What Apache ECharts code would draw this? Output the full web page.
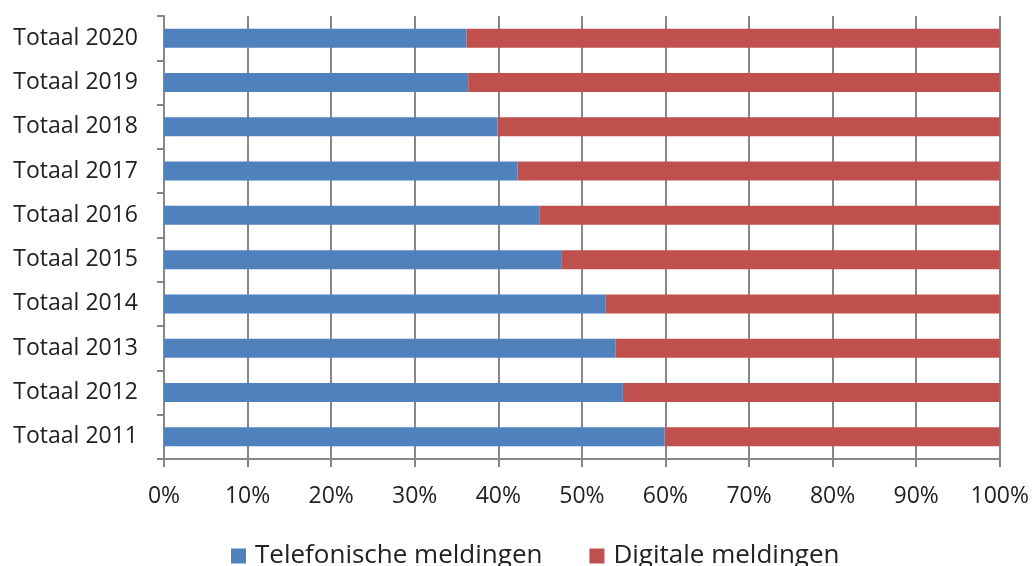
<!DOCTYPE html>
<html>
<head>
<meta charset="utf-8">
<script src="https://cdn.jsdelivr.net/npm/echarts@6/dist/echarts.min.js"></script>
<style>html,body{margin:0;padding:0;background:#fff}#c{width:1032px;height:566px}</style>
</head>
<body>
<div id="c"></div>
<script>
const categories = ['Totaal 2011','Totaal 2012','Totaal 2013','Totaal 2014','Totaal 2015','Totaal 2016','Totaal 2017','Totaal 2018','Totaal 2019','Totaal 2020'];
const telefonisch = [59.9, 54.9, 54.0, 52.8, 47.6, 44.9, 42.3, 39.9, 36.4, 36.2];
const digitaal = [40.1, 45.1, 46.0, 47.2, 52.4, 55.1, 57.7, 60.1, 63.6, 63.8];
const seriesNames = ['Telefonische meldingen', 'Digitale meldingen'];

const font = 'Open Sans';
const gridColor = '#878787';
const chart = echarts.init(document.getElementById('c'), null, {renderer: 'canvas'});
chart.setOption({
  animation: false,
  backgroundColor: '#fff',
  textStyle: {fontFamily: font},
  grid: {left: 164, right: 32, top: 16, bottom: 107, containLabel: false},
  legend: {
    data: seriesNames,
    left: 231, top: 543, padding: 0,
    itemWidth: 15, itemHeight: 15, itemGap: 47,
    icon: 'rect',
    textStyle: {fontFamily: font, fontSize: 26, color: '#222', padding: [0, 0, 0, 4]}
  },
  xAxis: {
    type: 'value', min: 0, max: 100, interval: 10,
    axisLine: {show: true, lineStyle: {color: gridColor, width: 2}},
    axisTick: {show: true, length: 8, lineStyle: {color: gridColor, width: 2}},
    splitLine: {show: true, lineStyle: {color: gridColor, width: 2}},
    axisLabel: {formatter: '{value}%', fontFamily: font, fontSize: 23, color: '#222', margin: 26}
  },
  yAxis: {
    type: 'category', data: categories,
    axisLine: {show: true, lineStyle: {color: gridColor, width: 2}},
    axisTick: {show: true, length: 7, lineStyle: {color: gridColor, width: 2}},
    axisLabel: {fontFamily: font, fontSize: 23, color: '#222', margin: 26}
  },
  series: [
    {name: seriesNames[0], type: 'bar', stack: 'total', data: telefonisch, barWidth: 19, itemStyle: {color: '#4F81BD'}},
    {name: seriesNames[1], type: 'bar', stack: 'total', data: digitaal, barWidth: 19, itemStyle: {color: '#C0504D'}}
  ]
});
</script>
</body>
</html>
